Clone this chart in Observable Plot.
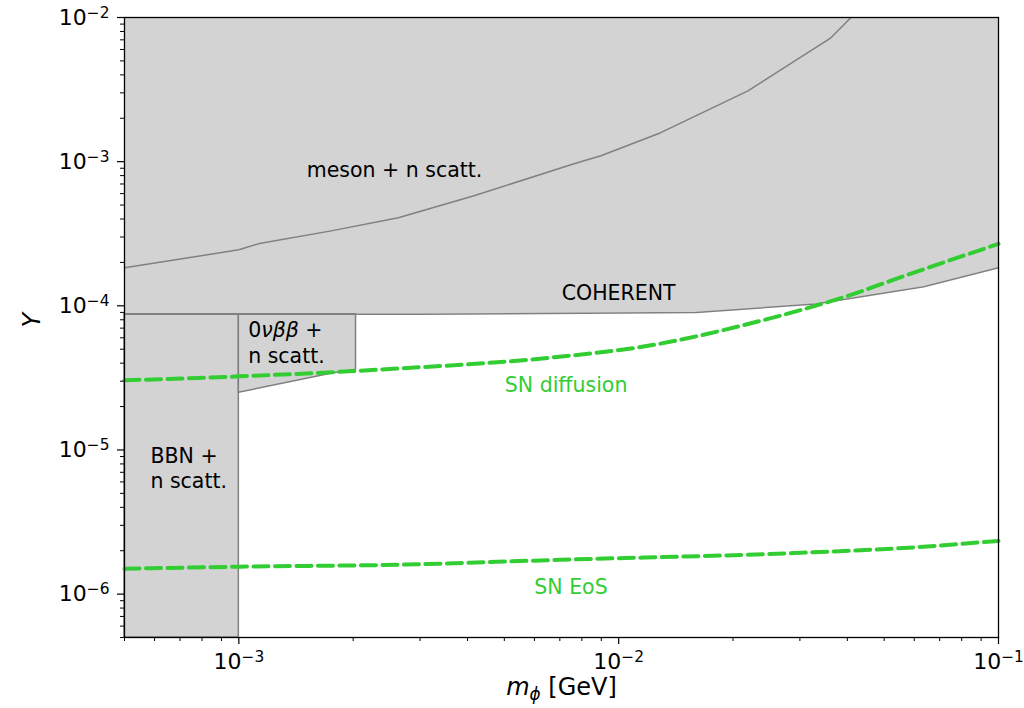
<!DOCTYPE html>
<html>
<head>
<meta charset="utf-8">
<script src="https://cdn.jsdelivr.net/npm/d3@7"></script>
<script src="https://cdn.jsdelivr.net/npm/@observablehq/plot@0.6"></script>
<style>
  body { margin: 0; background: #fff; }
  svg { display: block; }
</style>
</head>
<body>
<div id="chart"></div>
<script>
// Excluded-region boundaries (mass in GeV, coupling Y)
const mesonMass = [5e-4, 1e-3, 1.124e-3, 1.75e-3, 2.63e-3, 4.16e-3, 7.63e-3, 8.98e-3, 1.27e-2, 2.19e-2, 3.62e-2, 4.09e-2];
const mesonY    = [1.835e-4, 2.445e-4, 2.69e-4, 3.31e-4, 4.08e-4, 5.80e-4, 9.66e-4, 1.098e-3, 1.56e-3, 3.10e-3, 7.23e-3, 1.0e-2];

const coherentMass = [5e-4, 3e-3, 1.6e-2, 3.3e-2, 6.36e-2, 1e-1];
const coherentY    = [8.73e-5, 8.75e-5, 8.98e-5, 1.03e-4, 1.355e-4, 1.835e-4];

const bbnMass = [5e-4, 1e-3];
const bbnY    = [5e-7, 8.73e-5];

const nubbMass = [1e-3, 1.75e-3, 2.035e-3];
const nubbLow  = [2.49e-5, 3.38e-5, 3.60e-5];
const nubbHigh = [8.73e-5, 8.73e-5, 8.73e-5];

// Supernova curves
const snDiffMass = [5e-4, 1e-3, 2.674e-3, 6.635e-3, 1.216e-2, 2.229e-2, 4.087e-2, 5.534e-2, 1e-1];
const snDiffY    = [3.04e-5, 3.24e-5, 3.68e-5, 4.37e-5, 5.32e-5, 7.56e-5, 1.192e-4, 1.58e-4, 2.69e-4];

const snEosMass = [5e-4, 1e-3, 2.67e-3, 7.01e-3, 2.94e-2, 5.81e-2, 1e-1];
const snEosY    = [1.50e-6, 1.55e-6, 1.60e-6, 1.73e-6, 1.93e-6, 2.10e-6, 2.34e-6];

// Axis ticks
const xDomain = [5e-4, 1e-1];
const yDomain = [5e-7, 1e-2];
const xMajor = [1e-3, 1e-2, 1e-1];
const yMajor = [1e-6, 1e-5, 1e-4, 1e-3, 1e-2];
const minorMultiples = [2, 3, 4, 5, 6, 7, 8, 9];

function minorTicks(domain) {
  const out = [];
  for (let e = Math.floor(Math.log10(domain[0])); e < Math.ceil(Math.log10(domain[1])); e++) {
    for (const k of minorMultiples) {
      const v = k * Math.pow(10, e);
      if (v >= domain[0] * 0.999 && v <= domain[1] * 1.001) out.push(v);
    }
  }
  return out;
}
const xMinor = minorTicks(xDomain);
const yMinor = minorTicks(yDomain);

const rows = (xs, ys) => xs.map((m, i) => ({m, y: ys[i]}));
const mesonRows = rows(mesonMass, mesonY);
const coherentRows = rows(coherentMass, coherentY);
const nubbRows = nubbMass.map((m, i) => ({m, lo: nubbLow[i], hi: nubbHigh[i]}));
const bbnRect = [{x1: bbnMass[0], x2: bbnMass[1], y1: bbnY[0], y2: bbnY[1]}];
const snDiffRows = rows(snDiffMass, snDiffY);
const snEosRows = rows(snEosMass, snEosY);

const FILL = "#d3d3d3";
const EDGE = "#808080";
const GREEN = "#32cd32";
const FONT = "'DejaVu Sans', sans-serif";
const expFormat = d => "10\u2212" + Math.round(-Math.log10(d));
const yTop = yDomain[1];

const chart = Plot.plot({
  width: 1024,
  height: 708,
  marginLeft: 124,
  marginRight: 26,
  marginTop: 17,
  marginBottom: 71,
  style: {fontFamily: FONT, background: "white", color: "black"},
  x: {type: "log", domain: xDomain},
  y: {type: "log", domain: yDomain},
  marks: [
    // shaded exclusion regions
    Plot.areaY(coherentRows, {x: "m", y1: "y", y2: () => yTop, fill: FILL}),
    Plot.areaY(mesonRows, {x: "m", y1: "y", y2: () => yTop, fill: FILL}),
    Plot.rect(bbnRect, {x1: "x1", x2: "x2", y1: "y1", y2: "y2", fill: FILL, stroke: EDGE, strokeWidth: 1.5}),
    Plot.areaY(nubbRows, {x: "m", y1: "lo", y2: "hi", fill: FILL, stroke: EDGE, strokeWidth: 1.5}),
    Plot.line(coherentRows, {x: "m", y: "y", stroke: EDGE, strokeWidth: 1.5}),
    Plot.line(mesonRows, {x: "m", y: "y", stroke: EDGE, strokeWidth: 1.5}),

    // supernova bounds
    Plot.line(snDiffRows, {x: "m", y: "y", stroke: GREEN, strokeWidth: 4, strokeDasharray: "15,6.5", curve: "monotone-x"}),
    Plot.line(snEosRows, {x: "m", y: "y", stroke: GREEN, strokeWidth: 4, strokeDasharray: "15,6.5", curve: "monotone-x"}),

    // region labels
    Plot.text(["meson + n scatt."], {x: [2.57e-3], y: [8.64e-4], fontSize: 20.5, fill: "black"}),
    Plot.text(["COHERENT"], {x: [1.0e-2], y: [1.22e-4], fontSize: 20.5, fill: "black"}),
    Plot.text(["0νββ +"], {x: [1.058e-3], y: [6.71e-5], fontSize: 20.5, textAnchor: "start", fill: "black"}),
    Plot.text(["n scatt."], {x: [1.058e-3], y: [4.43e-5], fontSize: 20.5, textAnchor: "start", fill: "black"}),
    Plot.text(["BBN +"], {x: [5.85e-4], y: [9.04e-6], fontSize: 20.5, textAnchor: "start", fill: "black"}),
    Plot.text(["n scatt."], {x: [5.85e-4], y: [6.01e-6], fontSize: 20.5, textAnchor: "start", fill: "black"}),
    Plot.text(["SN diffusion"], {x: [7.27e-3], y: [2.79e-5], fontSize: 20.5, fill: GREEN}),
    Plot.text(["SN EoS"], {x: [7.49e-3], y: [1.107e-6], fontSize: 20.5, fill: GREEN}),

    // axes
    Plot.axisX(xMajor, {tickSize: 7, tickPadding: 9, fontSize: 22, tickFormat: expFormat, label: null, strokeWidth: 1.2}),
    Plot.axisX(xMinor, {tickSize: 4, tickFormat: () => "", label: null, strokeWidth: 1}),
    Plot.axisY(yMajor, {tickSize: 7, tickPadding: 8, fontSize: 22, tickFormat: expFormat, label: null, strokeWidth: 1.2}),
    Plot.axisY(yMinor, {tickSize: 4, tickFormat: () => "", label: null, strokeWidth: 1}),
    Plot.text(["m\u03d5 [GeV]"], {frameAnchor: "bottom", dy: 57, fontSize: 24, fill: "black"}),
    Plot.text(["Y"], {frameAnchor: "left", dx: -92, rotate: -90, fontSize: 24, fontStyle: "italic", fill: "black"}),
    Plot.frame({stroke: "black", strokeWidth: 1.3})
  ]
});

// typeset exponents, subscripts and Greek symbols
const svg = d3.select(chart);
svg.selectAll("text").each(function () {
  const s = this.textContent;
  const t = d3.select(this);
  const m = /^10(\u2212\d+)$/.exec(s);
  if (m) {
    t.text(null);
    t.append("tspan").text("10");
    t.append("tspan").attr("font-size", "0.7em").attr("dy", "-0.45em").text(m[1]);
  } else if (s === "m\u03d5 [GeV]") {
    t.text(null);
    t.append("tspan").attr("font-style", "italic").text("m");
    t.append("tspan").attr("font-style", "italic").attr("font-size", "0.7em").attr("dy", "0.3em").text("\u03d5");
    t.append("tspan").attr("dy", "-0.21em").text(" [GeV]");
  } else if (s === "0νββ +") {
    t.text(null);
    t.append("tspan").text("0");
    t.append("tspan").attr("font-style", "italic").text("νββ");
    t.append("tspan").text(" +");
  }
});

document.getElementById("chart").appendChild(chart);
</script>
</body>
</html>
